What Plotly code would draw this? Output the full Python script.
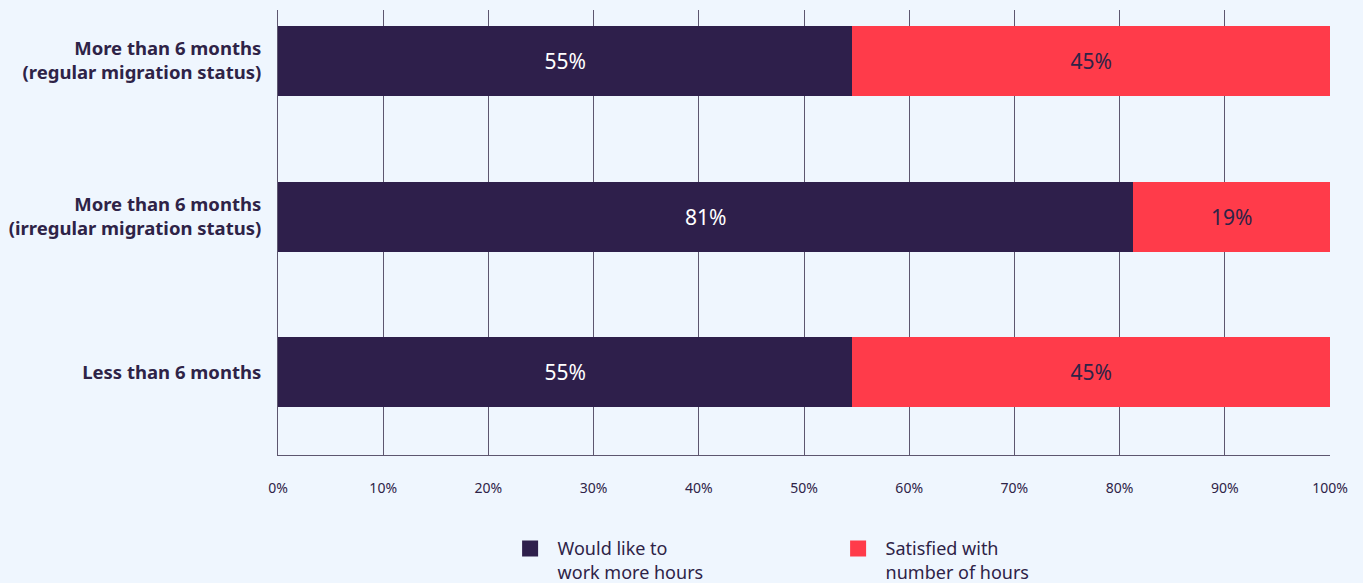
import plotly.graph_objects as go

categories = ["Less than 6 months",
              "More than 6 months<br>(irregular migration status)",
              "More than 6 months<br>(regular migration status)"]
would_like_more = [54.6, 81.3, 54.6]
satisfied = [45.4, 18.7, 45.4]
would_like_labels = ["55%", "81%", "55%"]
satisfied_labels = ["45%", "19%", "45%"]
series_names = ["Would like to<br>work more hours", "Satisfied with<br>number of hours"]
x_ticks = list(range(0, 101, 10))
x_tick_labels = [f"{t}%" for t in x_ticks]

DARK = "#2e1f4b"
RED = "#ff3b4a"
TEXT = "#2e2347"
GRID = "#5d566f"
BG = "#eff6fe"
FONT = "Noto Sans"

fig = go.Figure()
fig.add_trace(go.Bar(
    y=categories, x=would_like_more, orientation="h", name=series_names[0],
    marker=dict(color=DARK, line=dict(width=0)),
    text=would_like_labels, textposition="inside", insidetextanchor="middle",
    textfont=dict(color="white", size=21, family=FONT),
    showlegend=False, hoverinfo="skip"))
fig.add_trace(go.Bar(
    y=categories, x=satisfied, orientation="h", name=series_names[1],
    marker=dict(color=RED, line=dict(width=0)),
    text=satisfied_labels, textposition="inside", insidetextanchor="middle",
    textfont=dict(color=TEXT, size=21, family=FONT),
    showlegend=False, hoverinfo="skip"))
# legend proxies
for name, col in zip(series_names, [DARK, RED]):
    fig.add_trace(go.Scatter(x=[None], y=[None], mode="markers", name=name,
                             marker=dict(symbol="square", size=18, color=col)))

fig.update_layout(
    barmode="stack", bargap=0.55,
    width=1363, height=583,
    margin=dict(l=278, r=33, t=10, b=128, autoexpand=False),
    paper_bgcolor=BG, plot_bgcolor=BG,
    font=dict(family=FONT, color=TEXT),
    uniformtext=dict(minsize=10, mode="show"),
    xaxis=dict(range=[0, 100], tickvals=x_ticks, ticktext=x_tick_labels,
               showgrid=True, gridcolor=GRID, gridwidth=1,
               showline=True, linecolor=GRID, linewidth=1,
               zeroline=False, ticks="", ticklen=0,
               tickfont=dict(size=14, color=TEXT, family=FONT),
               ticklabelstandoff=20, fixedrange=True, automargin=False),
    yaxis=dict(type="category", categoryorder="array", categoryarray=categories,
               range=[-0.53, 2.327], showgrid=False, showline=True,
               linecolor=GRID, linewidth=1, zeroline=False, ticks="",
               ticklabelstandoff=12, automargin=False, fixedrange=True,
               tickfont=dict(size=18.5, color=TEXT, family=FONT, weight="bold")),
    legend=dict(orientation="h", x=0.2135, xanchor="left", y=-0.169, yanchor="top",
                valign="top", traceorder="normal", itemwidth=45,
                entrywidth=268, entrywidthmode="pixels",
                font=dict(size=18, color=TEXT, family=FONT),
                bgcolor="rgba(0,0,0,0)", itemclick=False, itemdoubleclick=False),
    showlegend=True,
)

fig.write_html("out.html",
               config={"displayModeBar": False},
               post_script="document.body.style.margin='0';"
                           "document.body.style.background='#eff6fe';"
                           "document.body.style.overflow='hidden';")
